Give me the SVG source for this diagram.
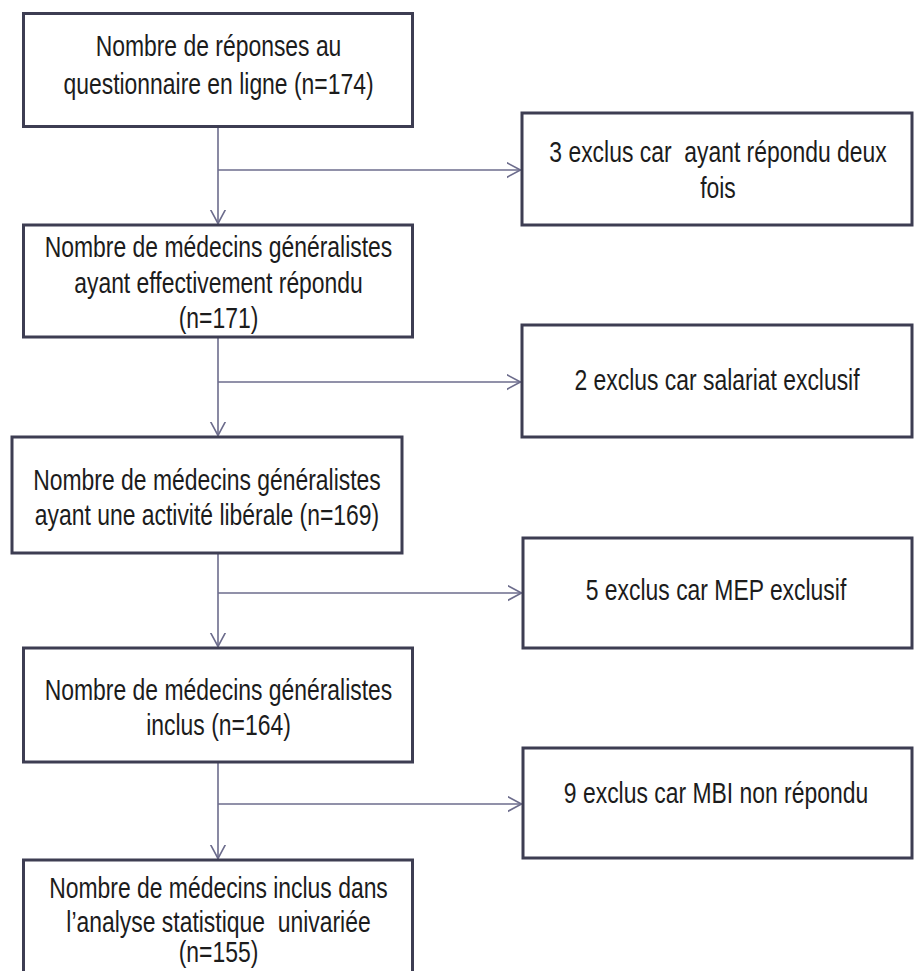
<svg xmlns="http://www.w3.org/2000/svg" width="919" height="971" viewBox="0 0 919 971">
<style>
.box{fill:#ffffff;stroke:#3d3d52;stroke-width:3}
.t{font-family:"Liberation Sans",Arial,sans-serif;font-size:29px;fill:#1c1c1c;text-anchor:middle;white-space:pre}
.c{fill:none;stroke:#6c6c8c;stroke-width:1.6}
</style>
<defs>
<marker id="ah" markerUnits="userSpaceOnUse" markerWidth="18" markerHeight="18" refX="14" refY="8" orient="auto" viewBox="0 0 18 18">
<path d="M0,0.5 L14,8 L0,15.5" fill="none" stroke="#6c6c8c" stroke-width="1.6"/>
</marker>
</defs>
<rect width="919" height="971" fill="#ffffff"/>
<g id="connectors">
<path class="c" d="M218,127 V223.5" marker-end="url(#ah)"/>
<path class="c" d="M218,170 H520.5" marker-end="url(#ah)"/>
<path class="c" d="M218,338 V435.5" marker-end="url(#ah)"/>
<path class="c" d="M218,382 H520.5" marker-end="url(#ah)"/>
<path class="c" d="M218,554 V646.5" marker-end="url(#ah)"/>
<path class="c" d="M218,593 H521.5" marker-end="url(#ah)"/>
<path class="c" d="M218,763 V858.5" marker-end="url(#ah)"/>
<path class="c" d="M218,804 H521.5" marker-end="url(#ah)"/>
</g>
<g id="n1">
<rect class="box" x="23.5" y="13.5" width="389" height="113"/>
<g transform="translate(218.5 0) scale(0.79 1)">
<text class="t" x="0" y="56">Nombre de réponses au</text>
<text class="t" x="0" y="94">questionnaire en ligne (n=174)</text>
</g>
</g>
<g id="e1">
<rect class="box" x="522" y="113" width="390" height="112"/>
<g transform="translate(718 0) scale(0.79 1)">
<text class="t" x="0" y="162">3 exclus car  ayant répondu deux</text>
<text class="t" x="0" y="198">fois</text>
</g>
</g>
<g id="n2">
<rect class="box" x="23.5" y="225" width="389" height="112"/>
<g transform="translate(218.5 0) scale(0.79 1)">
<text class="t" x="0" y="257">Nombre de médecins généralistes</text>
<text class="t" x="0" y="293">ayant effectivement répondu</text>
<text class="t" x="0" y="328">(n=171)</text>
</g>
</g>
<g id="e2">
<rect class="box" x="522" y="325" width="390" height="112"/>
<g transform="translate(717 0) scale(0.79 1)">
<text class="t" x="0" y="390">2 exclus car salariat exclusif</text>
</g>
</g>
<g id="n3">
<rect class="box" x="12" y="437" width="390" height="116"/>
<g transform="translate(207 0) scale(0.79 1)">
<text class="t" x="0" y="490">Nombre de médecins généralistes</text>
<text class="t" x="0" y="525">ayant une activité libérale (n=169)</text>
</g>
</g>
<g id="e3">
<rect class="box" x="523" y="538" width="389" height="110"/>
<g transform="translate(716 0) scale(0.79 1)">
<text class="t" x="0" y="600">5 exclus car MEP exclusif</text>
</g>
</g>
<g id="n4">
<rect class="box" x="23.5" y="648" width="389" height="114"/>
<g transform="translate(218.5 0) scale(0.79 1)">
<text class="t" x="0" y="700">Nombre de médecins généralistes</text>
<text class="t" x="0" y="735">inclus (n=164)</text>
</g>
</g>
<g id="e4">
<rect class="box" x="523" y="748" width="389" height="110"/>
<g transform="translate(716 0) scale(0.79 1)">
<text class="t" x="0" y="803">9 exclus car MBI non répondu</text>
</g>
</g>
<g id="n5">
<rect class="box" x="23.5" y="860" width="389" height="140"/>
<g transform="translate(218.5 0) scale(0.79 1)">
<text class="t" x="0" y="898">Nombre de médecins inclus dans</text>
<text class="t" x="0" y="932">l’analyse statistique  univariée</text>
<text class="t" x="0" y="962">(n=155)</text>
</g>
</g>
</svg>
